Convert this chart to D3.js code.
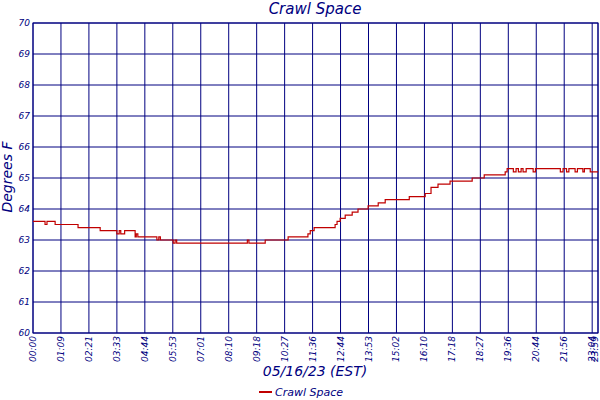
<!DOCTYPE html><html><head><meta charset="utf-8">
<script src="https://cdn.jsdelivr.net/npm/d3@7"></script>
<style>body{margin:0;background:#fff}text{font-family:"DejaVu Sans",Verdana,sans-serif;font-style:italic;fill:#000080}</style>
</head><body><svg id="c" width="600" height="400"></svg><script>
const sampleIdx=[0,31,36,57,116,173,216,222,226,236,263,266,270,319,324,328,361,366,370,546,552,556,598,657,708,714,724,778,783,791,804,822,837,863,889,907,969,1010,1025,1043,1074,1131,1162,1216,1221,1237,1244,1250,1257,1262,1270,1288,1294,1358,1365,1374,1380,1396,1402,1416,1420,1435,1455];
const temps=[63.6,63.5,63.6,63.5,63.4,63.3,63.2,63.3,63.2,63.3,63.1,63.2,63.1,63.0,63.1,63.0,62.9,63.0,62.9,62.9,63.0,62.9,63.0,63.1,63.2,63.3,63.4,63.5,63.6,63.7,63.8,63.9,64.0,64.1,64.2,64.3,64.4,64.5,64.7,64.8,64.9,65.0,65.1,65.2,65.3,65.2,65.3,65.2,65.3,65.2,65.3,65.2,65.3,65.2,65.3,65.2,65.3,65.2,65.3,65.2,65.3,65.2,65.2];
const tickLabels=["00:00","01:09","02:21","03:33","04:44","05:53","07:01","08:10","09:18","10:27","11:36","12:44","13:53","15:02","16:10","17:18","18:27","19:36","20:44","21:56","23:04","23:59"];
const tickIdx=[0,72,144,216,288,360,432,504,576,648,720,792,864,936,1008,1080,1152,1224,1296,1368,1440,1455];
const yTicks=[60,61,62,63,64,65,66,67,68,69,70];
const svg=d3.select("#c");
const x=d3.scaleLinear().domain([0,1455]).range([33,598]);
const y=d3.scaleLinear().domain([60,70]).range([333,23]);
const g=svg.append("g");
g.selectAll("line.v").data(tickIdx).join("line").attr("x1",d=>x(d)).attr("x2",d=>x(d)).attr("y1",y(70)).attr("y2",y(60)).attr("stroke","#000080");
g.selectAll("line.h").data(yTicks).join("line").attr("x1",x(0)).attr("x2",x(1455)).attr("y1",d=>y(d)).attr("y2",d=>y(d)).attr("stroke","#000080");
g.append("rect").attr("x",x(0)).attr("y",y(70)).attr("width",x(1455)-x(0)).attr("height",y(60)-y(70)).attr("fill","none").attr("stroke","#000080");
const pts=sampleIdx.map((d,i)=>[d,temps[i]]);
svg.append("path").datum(pts).attr("fill","none").attr("stroke","#c00000").attr("stroke-width",1.2)
 .attr("d",d3.line().x(d=>x(d[0])).y(d=>y(d[1])).curve(d3.curveStepAfter));
svg.selectAll("text.y").data(yTicks).join("text").attr("x",x(0)-3).attr("y",d=>y(d)+3).attr("text-anchor","end").attr("font-size",9).text(d=>d);
svg.selectAll("text.x").data(tickIdx).join("text").attr("transform",(d,i)=>`translate(${Math.min(x(d)+3,598)},${y(60)+3}) rotate(-90)`).attr("text-anchor","end").attr("font-size",9).text((d,i)=>tickLabels[i]);
svg.append("text").attr("x",315).attr("y",14).attr("text-anchor","middle").attr("font-size",15).text("Crawl Space");
svg.append("text").attr("transform","translate(12,177) rotate(-90)").attr("text-anchor","middle").attr("font-size",14).text("Degrees F");
svg.append("text").attr("x",315).attr("y",376).attr("text-anchor","middle").attr("font-size",14).text("05/16/23 (EST)");
svg.append("line").attr("x1",259).attr("x2",272).attr("y1",392).attr("y2",392).attr("stroke","#c00000").attr("stroke-width",2);
svg.append("text").attr("x",275).attr("y",396).attr("font-size",11).text("Crawl Space");
</script></body></html>
